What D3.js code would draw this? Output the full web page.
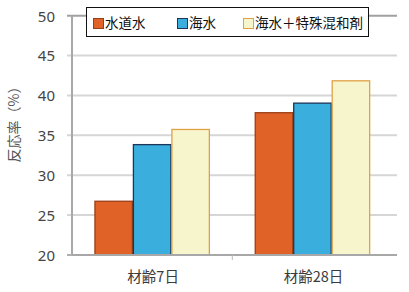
<!DOCTYPE html>
<html>
<head>
<meta charset="utf-8">
<script src="https://cdn.jsdelivr.net/npm/d3@7"></script>
<style>
  html, body { margin: 0; padding: 0; background: #fff; }
  svg { display: block; }
  text { font-family: "Noto Sans CJK JP", "Noto Sans", sans-serif; }
</style>
</head>
<body>
<svg id="chart" width="409" height="292"></svg>
<script>
// Reaction rate (%) by curing age and mixing water
const categories = ["材齢7日", "材齢28日"];
const seriesNames = ["水道水", "海水", "海水＋特殊混和剤"];
const seriesTap = [26.8, 37.9];
const seriesSea = [33.9, 39.1];
const seriesSeaAdmix = [35.8, 41.9];
const yTicks = [20, 25, 30, 35, 40, 45, 50];
const yTitle = "反応率（%）";

const fills = ["#e06226", "#3aafdd", "#f7f5cc"];
const strokes = ["#9a3e16", "#1c3558", "#e0a146"];

const values = [seriesTap, seriesSea, seriesSeaAdmix];

const svg = d3.select("#chart");
const plotLeft = 72, plotRight = 392.6, plotTop = 15.7, plotBottom = 255;

const y = d3.scaleLinear().domain([20, 50]).range([plotBottom, plotTop]);
const x0 = d3.scaleBand().domain(categories).range([plotLeft, plotRight])
  .paddingInner(0.28).paddingOuter(0.14);
const x1 = d3.scaleBand().domain(seriesNames).range([0, x0.bandwidth()]);

// horizontal gridlines
svg.append("g").selectAll("line")
  .data(yTicks.filter(t => t > 20))
  .join("line")
  .attr("x1", plotLeft - 5).attr("x2", 397)
  .attr("y1", d => y(d)).attr("y2", d => y(d))
  .attr("stroke", d => d === 50 ? "#a0a0a0" : "#d6d6d6")
  .attr("stroke-width", 2);

// y axis labels
const yAxis = d3.axisLeft(y).tickValues(yTicks).tickSize(0).tickPadding(17);
const ya = svg.append("g").attr("transform", `translate(${plotLeft},0)`).call(yAxis);
ya.select(".domain").remove();
ya.selectAll("text")
  .attr("fill", "#444")
  .style("font-family", "'Noto Sans', sans-serif")
  .style("font-size", "15px")
  .attr("dy", "0.36em");

// y axis line and tick at baseline
svg.append("line").attr("x1", plotLeft).attr("x2", plotLeft)
  .attr("y1", plotTop).attr("y2", plotBottom + 1)
  .attr("stroke", "#a8a8a8").attr("stroke-width", 2);
svg.append("line").attr("x1", plotLeft - 5).attr("x2", plotLeft)
  .attr("y1", plotBottom).attr("y2", plotBottom)
  .attr("stroke", "#b0b0b0").attr("stroke-width", 2);

// bars
const groups = svg.append("g").selectAll("g")
  .data(categories)
  .join("g")
  .attr("transform", d => `translate(${x0(d)},0)`);

groups.selectAll("rect")
  .data((c, ci) => seriesNames.map((s, si) => ({ s, si, v: values[si][ci] })))
  .join("rect")
  .attr("x", d => x1(d.s) + 0.5)
  .attr("width", x1.bandwidth() - 1)
  .attr("y", d => y(d.v) + 0.5)
  .attr("height", d => plotBottom - y(d.v) - 0.5)
  .attr("fill", d => fills[d.si])
  .attr("stroke", d => strokes[d.si])
  .attr("stroke-width", 1.3);

// x axis line
svg.append("line").attr("x1", plotLeft).attr("x2", 397)
  .attr("y1", plotBottom).attr("y2", plotBottom)
  .attr("stroke", "#a8a8a8").attr("stroke-width", 2);

// boundary tick between categories
const mid = (x0(categories[0]) + x0.bandwidth() + x0(categories[1])) / 2;
svg.append("line").attr("x1", mid).attr("x2", mid)
  .attr("y1", plotBottom).attr("y2", plotBottom + 5)
  .attr("stroke", "#b8b8b8").attr("stroke-width", 1);

// category labels
svg.append("g").selectAll("text")
  .data(categories)
  .join("text")
  .attr("x", d => x0(d) + x0.bandwidth() / 2 + 1)
  .attr("y", 282)
  .attr("text-anchor", "middle")
  .attr("fill", "#3a3a3a")
  .style("font-size", "14.5px")
  .text(d => d);

// y axis title
svg.append("text")
  .attr("transform", `translate(19,121) rotate(-90)`)
  .attr("text-anchor", "middle")
  .attr("fill", "#555")
  .style("font-size", "14px")
  .text(yTitle);

// legend
const lg = svg.append("g");
lg.append("rect").attr("x", 86.5).attr("y", 7.5).attr("width", 282).attr("height", 29)
  .attr("fill", "#fff").attr("stroke", "#111").attr("stroke-width", 1);
const legendX = [93, 177, 243];
const items = lg.selectAll("g.item").data(seriesNames).join("g")
  .attr("class", "item")
  .attr("transform", (d, i) => `translate(${legendX[i]},0)`);
items.append("rect").attr("x", 0.5).attr("y", 18.5).attr("width", 10).attr("height", 10)
  .attr("fill", (d, i) => fills[i]).attr("stroke", (d, i) => strokes[i]).attr("stroke-width", 1);
items.append("text").attr("x", 12).attr("y", 28)
  .attr("fill", "#111")
  .style("font-size", "13.5px")
  .text(d => d);
</script>
</body>
</html>
